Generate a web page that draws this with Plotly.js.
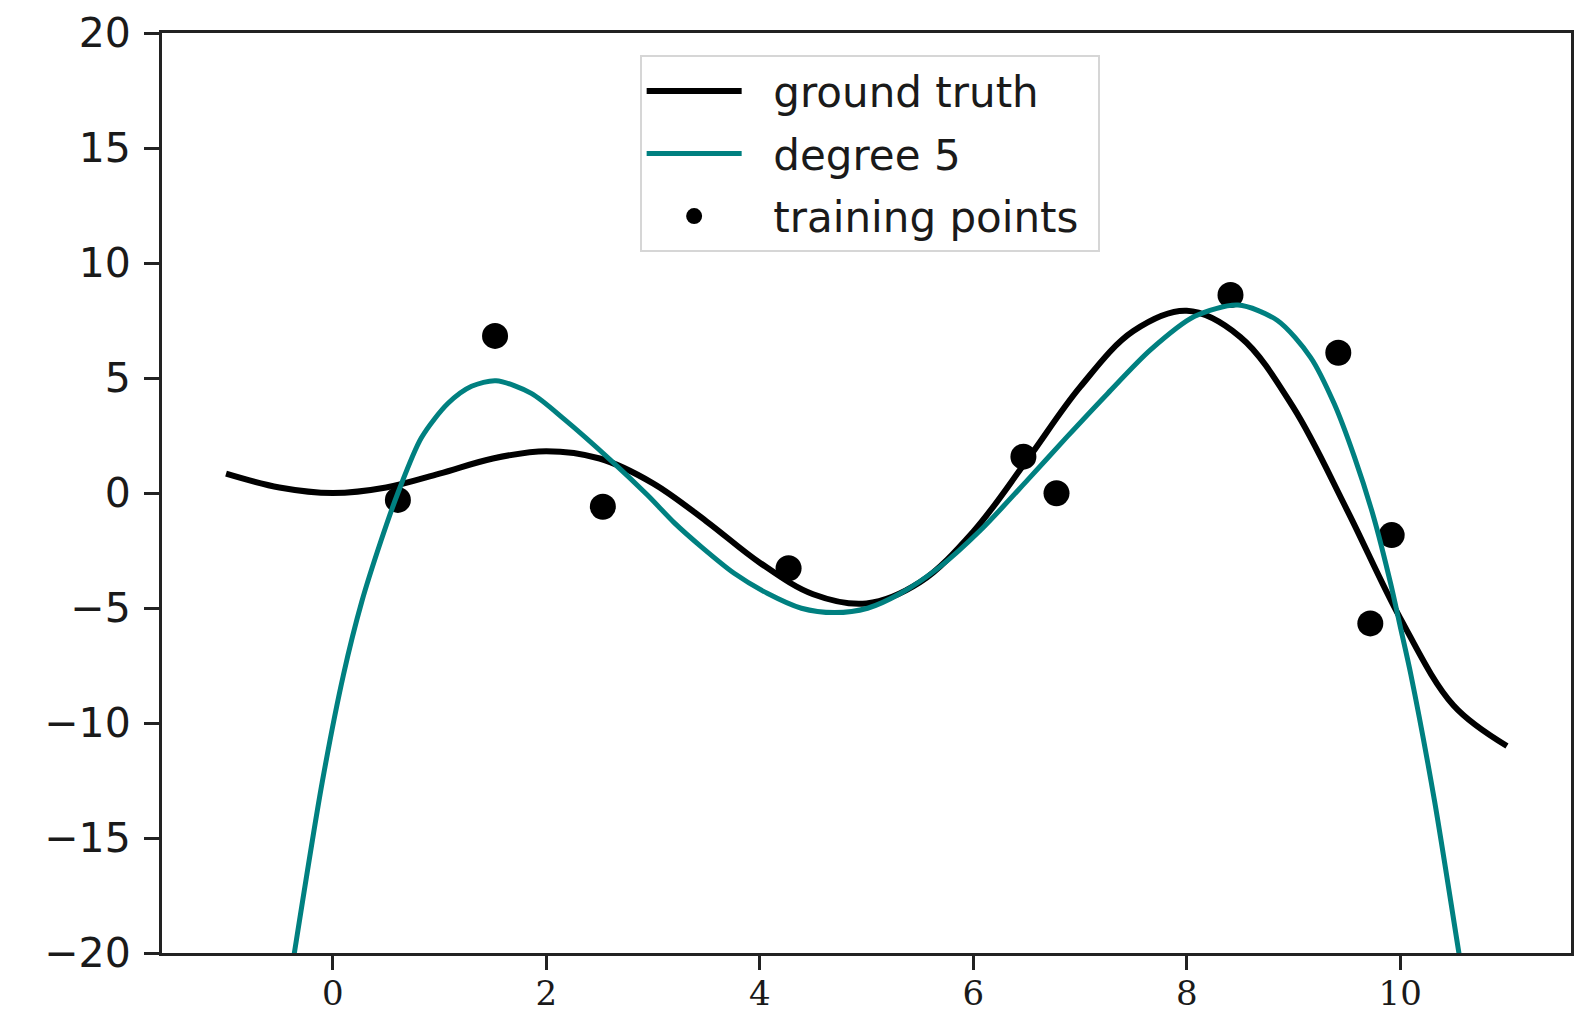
<!DOCTYPE html>
<html>
<head>
<meta charset="utf-8">
<script src="https://cdn.plot.ly/plotly-3.0.1.min.js"></script>
<style>html,body{margin:0;padding:0;background:#fff;}#chart{width:1593px;height:1017px;}</style>
</head>
<body>
<div id="chart"></div>
<script>
// Ground truth curve
const truthX = [-1, -0.5, 0, 0.5, 1, 1.5, 2, 2.5, 3, 3.5, 4, 4.5, 5, 5.5, 6, 6.5, 7, 7.5, 8, 8.5, 9, 9.5, 10, 10.5, 11];
const truthY = [0.84, 0.24, 0, 0.24, 0.84, 1.50, 1.82, 1.50, 0.42, -1.23, -3.03, -4.40, -4.80, -3.88, -1.68, 1.40, 4.60, 7.04, 7.92, 6.79, 3.71, -0.72, -5.44, -9.24, -11.0];

// Degree 5 fit
const fitX = [-0.45, -0.36, -0.1, 0.1, 0.27, 0.45, 0.61, 0.83, 1.08, 1.30, 1.53, 1.86, 2.17, 2.61, 2.95, 3.2, 3.45, 3.76, 4.07, 4.39, 4.70, 5.01, 5.32, 5.69, 6.07, 6.51, 6.88, 7.26, 7.66, 8.07, 8.48, 8.85, 9.16, 9.38, 9.57, 9.75, 9.91, 10.0, 10.10, 10.32, 10.55, 10.62];
const fitY = [-22.7, -20.0, -12.6, -7.9, -4.75, -2.1, 0.0, 2.4, 3.9, 4.64, 4.88, 4.33, 3.2, 1.4, -0.1, -1.3, -2.33, -3.49, -4.36, -5.01, -5.20, -5.01, -4.36, -3.2, -1.61, 0.57, 2.45, 4.33, 6.22, 7.67, 8.17, 7.5, 5.9, 3.90, 1.58, -1.03, -3.93, -5.8, -7.9, -13.35, -20.0, -22.0];

// Training points
const trainX = [0.61, 1.52, 2.53, 4.27, 6.47, 6.78, 8.41, 9.42, 9.72, 9.92];
const trainY = [-0.3, 6.83, -0.6, -3.27, 1.58, -0.01, 8.61, 6.1, -5.67, -1.83];

// Tick labels
const xTicks = [0, 2, 4, 6, 8, 10];
const yTicks = [-20, -15, -10, -5, 0, 5, 10, 15, 20];

const NB = '\u00a0\u00a0';

const traces = [
  {x: truthX, y: truthY, type: 'scatter', mode: 'lines', name: NB + 'ground truth',
   line: {color: '#000000', width: 6, shape: 'spline', smoothing: 1}, legendrank: 1, legendgroup: 'a'},
  {x: trainX, y: trainY, type: 'scatter', mode: 'markers', name: NB + 'training points\u00a0',
   marker: {color: '#000000', size: 26}, legendrank: 3, legendgroup: 'c'},
  {x: fitX, y: fitY, type: 'scatter', mode: 'lines', name: NB + 'degree 5',
   line: {color: '#008080', width: 5, shape: 'spline', smoothing: 0.8}, legendrank: 2, legendgroup: 'b'}
];

const axisCommon = {
  showline: true, mirror: true, linecolor: '#222', linewidth: 3,
  showgrid: false, zeroline: false,
  ticks: 'outside', ticklen: 15, tickwidth: 3, tickcolor: '#222'
};

const layout = {
  width: 1593, height: 1017,
  margin: {l: 162, r: 22, t: 33, b: 64},
  paper_bgcolor: '#ffffff', plot_bgcolor: '#ffffff',
  showlegend: true,
  legend: {
    x: 0.339, y: 0.976, xanchor: 'left', yanchor: 'top',
    bgcolor: '#ffffff', bordercolor: '#d6d6d6', borderwidth: 2,
    font: {family: 'DejaVu Sans', size: 42, color: '#1a1a1a'},
    itemwidth: 95, tracegroupgap: 5
  },
  xaxis: Object.assign({}, axisCommon, {
    range: [-1.6, 11.6], tickmode: 'array', tickvals: xTicks, ticktext: xTicks.map(String),
    tickfont: {family: 'DejaVu Serif', size: 34, color: '#1a1a1a'},
    ticklen: 14, ticklabelstandoff: -6
  }),
  yaxis: Object.assign({}, axisCommon, {
    range: [-20, 20], tickmode: 'array', tickvals: yTicks,
    ticktext: yTicks.map(v => v < 0 ? '\u2212' + Math.abs(v) : String(v)),
    tickfont: {family: 'DejaVu Sans', size: 41, color: '#1a1a1a'},
    ticklabelstandoff: 5
  })
};

Plotly.newPlot('chart', traces, layout, {displayModeBar: false, staticPlot: true});
</script>
</body>
</html>
